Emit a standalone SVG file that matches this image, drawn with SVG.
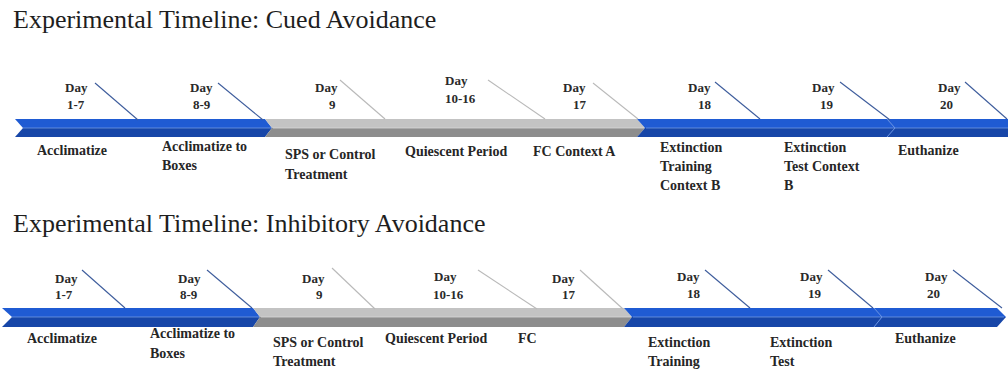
<svg xmlns="http://www.w3.org/2000/svg" width="1008" height="369" viewBox="0 0 1008 369">
<style>
.title{font-family:"Liberation Serif","Times New Roman",serif;font-size:26px;fill:#1e1e1e}
.day{font-family:"Liberation Serif","Times New Roman",serif;font-size:13px;font-weight:bold;fill:#2a2a2a}
.lbl{font-family:"Liberation Serif","Times New Roman",serif;font-size:14px;font-weight:bold;fill:#262626}
.bu{fill:#1f5bd3}
.bl{fill:#1746a8}
.gu{fill:#c3c3c3}
.gl{fill:#8d8d8d}
.mid{stroke:#7fa3e6;stroke-width:1;opacity:0.7}
.midg{stroke:#d9d9d9;stroke-width:1;opacity:0.8}
.chev{fill:none;stroke:#6c95e3;stroke-width:1}
.dblue{stroke:#3d5c9c;stroke-width:1.1}
.dgray{stroke:#b9b9b9;stroke-width:1.1}
</style>
<rect width="1008" height="369" fill="#ffffff"/>
<text class="title" x="13" y="28">Experimental Timeline: Cued Avoidance</text>
<text class="title" x="13" y="232">Experimental Timeline: Inhibitory Avoidance</text>

<g id="bar-cued">
<polygon class="bu" points="15,119 265,119 272,128 23,128"/>
<polygon class="bl" points="23,128 272,128 265,137 15,137"/>
<polygon class="gu" points="265,119 637,119 645,128 272,128"/>
<polygon class="gl" points="272,128 645,128 637,137 265,137"/>
<polygon class="bu" points="637,119 1008,119 1008,128 645,128"/>
<polygon class="bl" points="645,128 1008,128 1008,137 637,137"/>
<line class="mid" x1="23" y1="128" x2="271" y2="128"/>
<line class="midg" x1="273" y1="128" x2="644" y2="128"/>
<line class="mid" x1="646" y1="128" x2="1008" y2="128"/>
<polyline class="chev" points="887,119 895,128 887,137"/>
</g>

<g id="bar-inhibitory">
<polygon class="bu" points="2,308 253,308 260,317 12,317"/>
<polygon class="bl" points="12,317 260,317 253,327 2,327"/>
<polygon class="gu" points="253,308 624,308 632,317 260,317"/>
<polygon class="gl" points="260,317 632,317 624,327 253,327"/>
<polygon class="bu" points="624,308 997,308 1006,317 632,317"/>
<polygon class="bl" points="632,317 1006,317 997,327 624,327"/>
<line class="mid" x1="12" y1="317" x2="259" y2="317"/>
<line class="midg" x1="261" y1="317" x2="631" y2="317"/>
<line class="mid" x1="633" y1="317" x2="1004" y2="317"/>
<polyline class="chev" points="874,308 882,317 874,327"/>
</g>

<g id="connectors">
<line class="dblue" x1="95" y1="83" x2="138" y2="120"/>
<line class="dblue" x1="218" y1="83" x2="263" y2="120"/>
<line class="dgray" x1="340" y1="80" x2="385" y2="119"/>
<line class="dgray" x1="488" y1="80" x2="545" y2="119"/>
<line class="dgray" x1="593" y1="83" x2="638" y2="119"/>
<line class="dblue" x1="715" y1="82" x2="760" y2="119"/>
<line class="dblue" x1="840" y1="82" x2="890" y2="120"/>
<line class="dblue" x1="965" y1="82" x2="1007" y2="119"/>

<line class="dblue" x1="82" y1="270" x2="125" y2="308"/>
<line class="dblue" x1="207" y1="270" x2="252" y2="308"/>
<line class="dgray" x1="332" y1="268" x2="375" y2="309"/>
<line class="dgray" x1="478" y1="270" x2="537" y2="309"/>
<line class="dgray" x1="580" y1="270" x2="623" y2="309"/>
<line class="dblue" x1="705" y1="270" x2="750" y2="308"/>
<line class="dblue" x1="828" y1="270" x2="873" y2="308"/>
<line class="dblue" x1="953" y1="270" x2="1002" y2="308"/>
</g>

<g id="cued-1">
<text class="day" x="65" y="92">Day</text><text class="day" x="67" y="109">1-7</text>
<text class="lbl" x="37" y="155">Acclimatize</text>
</g>
<g id="cued-2">
<text class="day" x="190" y="92">Day</text><text class="day" x="193" y="109">8-9</text>
<text class="lbl" x="162" y="151">Acclimatize to</text><text class="lbl" x="162" y="170">Boxes</text>
</g>
<g id="cued-3">
<text class="day" x="315" y="92">Day</text><text class="day" x="329" y="109">9</text>
<text class="lbl" x="285" y="159">SPS or Control</text><text class="lbl" x="285" y="179">Treatment</text>
</g>
<g id="cued-4">
<text class="day" x="445" y="85">Day</text><text class="day" x="445" y="103">10-16</text>
<text class="lbl" x="405" y="156">Quiescent Period</text>
</g>
<g id="cued-5">
<text class="day" x="563" y="92">Day</text><text class="day" x="573" y="109">17</text>
<text class="lbl" x="533" y="156">FC Context A</text>
</g>
<g id="cued-6">
<text class="day" x="688" y="92">Day</text><text class="day" x="698" y="109">18</text>
<text class="lbl" x="660" y="152">Extinction</text><text class="lbl" x="660" y="171">Training</text><text class="lbl" x="660" y="190">Context B</text>
</g>
<g id="cued-7">
<text class="day" x="812" y="92">Day</text><text class="day" x="820" y="109">19</text>
<text class="lbl" x="784" y="152">Extinction</text><text class="lbl" x="784" y="171">Test Context</text><text class="lbl" x="784" y="190">B</text>
</g>
<g id="cued-8">
<text class="day" x="938" y="92">Day</text><text class="day" x="940" y="109">20</text>
<text class="lbl" x="898" y="155">Euthanize</text>
</g>

<g id="inhib-1">
<text class="day" x="55" y="283">Day</text><text class="day" x="55" y="299">1-7</text>
<text class="lbl" x="27" y="343">Acclimatize</text>
</g>
<g id="inhib-2">
<text class="day" x="178" y="283">Day</text><text class="day" x="180" y="299">8-9</text>
<text class="lbl" x="150" y="338">Acclimatize to</text><text class="lbl" x="150" y="358">Boxes</text>
</g>
<g id="inhib-3">
<text class="day" x="302" y="283">Day</text><text class="day" x="316" y="299">9</text>
<text class="lbl" x="273" y="347">SPS or Control</text><text class="lbl" x="273" y="366">Treatment</text>
</g>
<g id="inhib-4">
<text class="day" x="434" y="281">Day</text><text class="day" x="433" y="299">10-16</text>
<text class="lbl" x="385" y="343">Quiescent Period</text>
</g>
<g id="inhib-5">
<text class="day" x="552" y="283">Day</text><text class="day" x="562" y="299">17</text>
<text class="lbl" x="518" y="343">FC</text>
</g>
<g id="inhib-6">
<text class="day" x="677" y="281">Day</text><text class="day" x="687" y="298">18</text>
<text class="lbl" x="648" y="347">Extinction</text><text class="lbl" x="648" y="366">Training</text>
</g>
<g id="inhib-7">
<text class="day" x="800" y="281">Day</text><text class="day" x="808" y="298">19</text>
<text class="lbl" x="770" y="347">Extinction</text><text class="lbl" x="770" y="366">Test</text>
</g>
<g id="inhib-8">
<text class="day" x="925" y="281">Day</text><text class="day" x="927" y="298">20</text>
<text class="lbl" x="895" y="343">Euthanize</text>
</g>
</svg>
